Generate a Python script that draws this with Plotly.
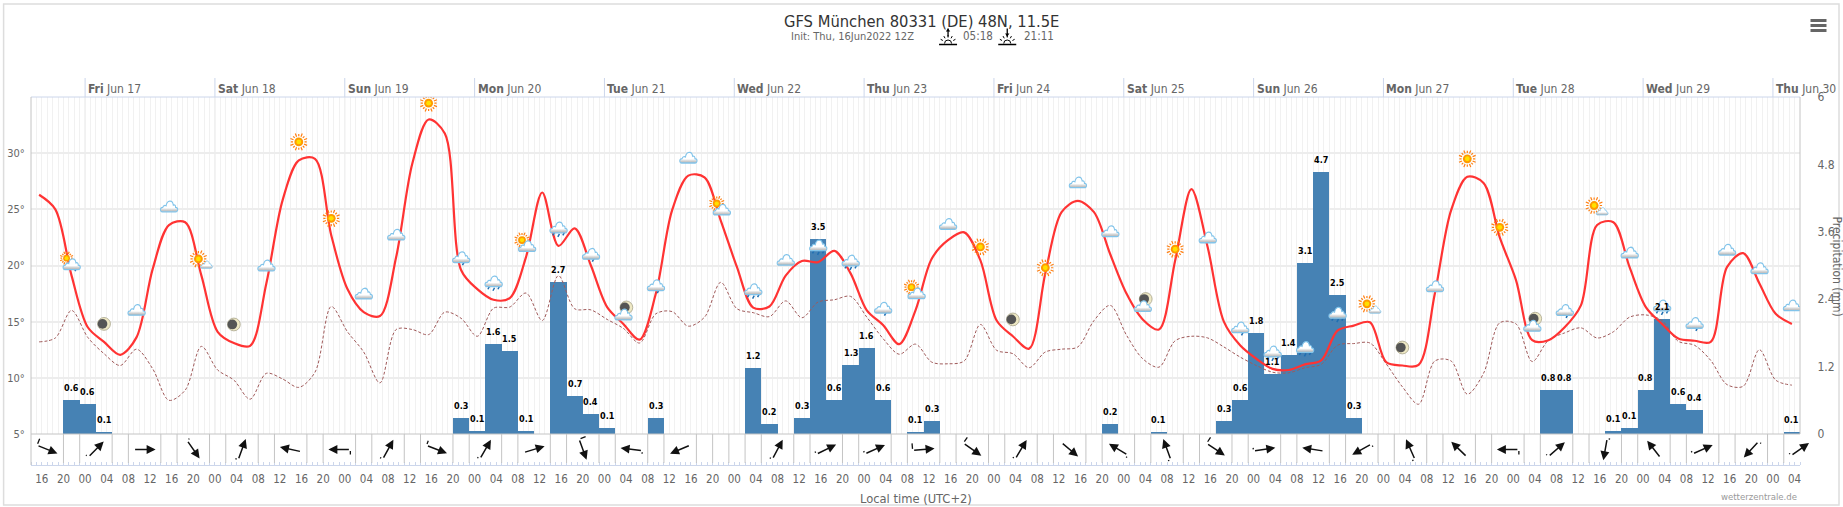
import base64
import math

import pandas as pd
import plotly.graph_objects as go

# forecast data, 3-hourly from init time
temp = [26.3, 25.0, 19.1, 14.5, 13.2, 12.05, 13.6, 19.7, 23.6, 23.85,
        19.1, 14.1, 13.1, 12.85, 18.4, 25.8, 29.35, 29.5, 22.7, 17.9,
        15.85, 15.5, 20.75, 29.1, 33.0, 31.75, 19.6, 17.9, 16.95, 17.1,
        20.75, 26.5, 21.75, 23.3, 20.0, 16.3, 14.8, 13.4, 17.5, 24.9,
        28.0, 27.85, 24.0, 19.85, 16.25, 16.35, 19.1, 20.4, 20.3, 21.3,
        19.3, 16.0, 14.7, 13.0, 16.0, 20.6, 22.25, 22.95, 20.45, 15.1,
        13.7, 12.6, 19.3, 24.75, 25.75, 24.75, 21.0, 17.5, 15.2, 14.3,
        20.45, 26.8, 21.65, 15.0, 12.9, 11.7, 10.8, 10.7, 11.2, 11.55,
        14.2, 14.65, 14.95, 11.4, 11.1, 11.15, 17.5, 24.9, 27.9, 27.35,
        22.5, 18.7, 13.35, 13.35, 14.5, 16.45, 23.6, 23.85, 19.85, 16.3,
        14.8, 13.5, 13.3, 13.2, 19.85, 21.1, 18.4, 15.7, 14.8]
dew = [13.2, 13.55, 16.0, 13.6, 12.15, 11.1, 12.55, 10.8, 8.0, 8.9,
       12.8, 10.7, 9.8, 8.1, 10.4, 9.9, 9.15, 10.5, 16.35, 14.1,
       12.3, 9.55, 14.3, 14.3, 13.85, 15.85, 15.3, 13.7, 16.2, 16.3,
       17.55, 15.1, 19.1, 16.15, 16.05, 15.2, 14.4, 13.1, 15.7, 15.9,
       14.6, 15.4, 18.5, 16.15, 15.8, 15.45, 16.85, 15.35, 16.75, 16.95,
       17.25, 15.4, 13.5, 12.1, 13.0, 11.4, 11.25, 11.5, 14.75, 12.45,
       12.15, 10.9, 12.3, 12.55, 12.75, 15.1, 16.45, 13.8, 11.7, 10.95,
       13.3, 13.7, 13.55, 12.75, 11.85, 11.1, 10.5, 10.45, 10.9, 11.2,
       12.9, 13.05, 13.1, 11.25, 9.2, 7.65, 11.5, 11.5, 8.55, 10.4,
       14.9, 14.8, 11.45, 13.35, 14.0, 14.45, 13.55, 14.1, 15.4, 15.6,
       15.1, 13.25, 12.9, 11.55, 9.4, 9.25, 12.5, 9.8, 9.35]

# precipitation per 3h step: step index -> (bar height, printed label)
precip = [0.0] * 109
precip_label = [""] * 109
rain_steps = [2, 3, 4, 26, 27, 28, 29, 30, 32, 33, 34, 35, 38, 44, 45, 47, 48, 49, 50, 51, 52,
              54, 55, 66, 69, 73, 74, 75, 76, 77, 78, 79, 80, 81, 93, 94, 97, 98, 99, 100, 101, 102, 108]
rain_mm = [0.61, 0.54, 0.04, 0.29, 0.06, 1.61, 1.48, 0.06, 2.71, 0.68, 0.36, 0.11, 0.29, 1.18, 0.18, 0.29, 3.47, 0.61, 1.23, 1.54, 0.61,
           0.04, 0.23, 0.18, 0.04, 0.23, 0.61, 1.79, 1.06, 1.41, 3.05, 4.66, 2.48, 0.29, 0.79, 0.79, 0.06, 0.11, 0.79, 2.05, 0.54, 0.43, 0.04]
rain_text = ["0.6", "0.6", "0.1", "0.3", "0.1", "1.6", "1.5", "0.1", "2.7", "0.7", "0.4", "0.1", "0.3", "1.2", "0.2", "0.3", "3.5", "0.6", "1.3", "1.6", "0.6",
             "0.1", "0.3", "0.2", "0.1", "0.3", "0.6", "1.8", "1.1", "1.4", "3.1", "4.7", "2.5", "0.3", "0.8", "0.8", "0.1", "0.1", "0.8", "2.1", "0.6", "0.4", "0.1"]
for s, mm, txt in zip(rain_steps, rain_mm, rain_text):
    precip[s] = mm
    precip_label[s] = txt

# weather symbol on every second step, starting at step 2
icon_kinds = ["sun_bigcloud_rain", "moon", "cloud", "cloud", "sun_cloud", "moon", "cloud", "sun", "sun", "cloud",
              "cloud", "sun", "cloud_rain", "rain", "sun_bigcloud", "rain", "cloud_rain", "moon_cloud", "cloud_rain", "cloud",
              "sun_bigcloud", "rain", "cloud", "rain", "rain", "cloud_rain", "sun_bigcloud", "cloud", "sun", "moon",
              "sun", "cloud", "cloud", "moon_cloud", "sun", "cloud", "cloud_rain", "rain", "rain", "rain",
              "sun_cloud", "moon", "cloud", "sun", "sun", "moon_cloud", "cloud_rain", "sun_cloud", "cloud", "rain",
              "cloud_rain", "cloud", "cloud", "cloud"]
icon_levels = [20.3, 14.8, 16.15, 25.35, 20.5, 14.75, 20.1, 31.0, 24.2, 17.6,
               22.85, 34.45, 20.75, 18.6, 22.0, 23.4, 21.05, 16.0, 18.25, 29.7,
               25.25, 17.9, 20.6, 21.8, 20.45, 16.25, 17.8, 23.8, 21.65, 15.2,
               19.8, 27.5, 23.15, 16.75, 21.45, 22.6, 14.5, 12.35, 12.75, 15.8,
               16.5, 12.7, 18.25, 29.5, 23.4, 15.0, 16.05, 25.25, 21.25, 16.45,
               14.9, 21.5, 19.85, 16.55]

# wind arrows every 9h, heading in degrees (None = no arrow), barb length
wind_heading = [112, 45, 90, 145, 20, 282, 270, 29, 111, 30, 73, 160, 277, 247, None, 28, 64, 66, 85,
                125, 31, 130, 301, 340, 124, 82, 279, 241, 336, 314, 270, 49, 190, 322, 66, 223, 55]
wind_barb = [7, 3, 0, 3, 3, 0, 5, 3, 5, 3, 0, 7, 3, 0, 0, 3, 3, 3, 7,
             7, 3, 0, 3, 3, 7, 3, 0, 3, 3, 0, 5, 3, 3, 0, 3, 3, 3]

day_names = ["Fri", "Sat", "Sun", "Mon", "Tue", "Wed", "Thu", "Fri", "Sat", "Sun", "Mon", "Tue", "Wed", "Thu"]
day_labels = ["Jun 17", "Jun 18", "Jun 19", "Jun 20", "Jun 21", "Jun 22", "Jun 23",
              "Jun 24", "Jun 25", "Jun 26", "Jun 27", "Jun 28", "Jun 29", "Jun 30"]
day_dates = pd.date_range("2022-06-17", periods=14, freq="D")

temp_ticks = [5, 10, 15, 20, 25, 30]
precip_ticks = [0, 1.2, 2.4, 3.6, 4.8, 6]

start = pd.Timestamp("2022-06-16 14:00")
times = pd.date_range(start + pd.Timedelta(minutes=90), periods=109, freq="3h")
end = start + pd.Timedelta(hours=327)

# plot frame in page pixels
WIDTH, HEIGHT = 1843, 507
L, R, T, B = 31.4, 1800.5, 97, 465
PRECIP_B = 434
PX_PER_HOUR = (R - L) / 327
PX_PER_DEG = (PRECIP_B - T) / 30
FONT = "DejaVu Sans Condensed, DejaVu Sans"
HOUR_MS = 3600000


def px(x):
    return (x - L) / (R - L)


def py(y):
    return (B - y) / (B - T)


def cloud_svg(cx, cy, w):
    s = w / 20
    return (f'<g transform="translate({cx - w / 2},{cy - 7 * s}) scale({s},{s * 1.2})">'
            '<path d="M3,11.5 C0.3,11.5 0.3,7.6 3.5,7.6 C4,5.8 6,5.6 7,6.2 C8,1 13.8,0.8 14.6,5.6 '
            'C16,5 17.2,6 17,7.6 C19.9,7.6 20,11.5 17,11.5 Z" fill="url(#g)" stroke="#82c4ea" stroke-width="1.1"/></g>')


def sun_svg(cx, cy, r):
    rays = ""
    for i in range(16):
        a = i * math.pi / 8
        r1, r2 = r * 1.3, r * 1.3 + (r * 0.75 if i % 2 else r * 0.5)
        rays += (f'<line x1="{cx + r1 * math.cos(a):.2f}" y1="{cy + r1 * math.sin(a):.2f}" '
                 f'x2="{cx + r2 * math.cos(a):.2f}" y2="{cy + r2 * math.sin(a):.2f}" stroke="#ff7f11" stroke-width="1.2"/>')
    return (rays + f'<circle cx="{cx}" cy="{cy}" r="{r}" fill="#ff9a00"/>'
            f'<circle cx="{cx}" cy="{cy}" r="{r * 0.55}" fill="#ffe000"/>')


def moon_svg(cx, cy, r):
    return (f'<circle cx="{cx}" cy="{cy}" r="{r}" fill="#eee8c4" stroke="#a8a48c" stroke-width="0.8"/>'
            f'<circle cx="{cx - r * 0.24}" cy="{cy}" r="{r * 0.76}" fill="#555555"/>')


def drops_svg(cx, cy, n):
    out = ""
    for i in range(n):
        x = cx + (i - (n - 1) / 2) * 5
        y = cy + (i % 2) * 1.5
        out += f'<line x1="{x + 1}" y1="{y}" x2="{x - 0.6}" y2="{y + 3}" stroke="#1f6fb2" stroke-width="1.5"/>'
    return out


def icon_uri(kind):
    c = 18
    parts = {
        "cloud": cloud_svg(c, c, 19),
        "cloud_rain": drops_svg(c + 2, c + 5, 1) + cloud_svg(c, c - 1, 19),
        "rain": drops_svg(c, c + 5, 3) + cloud_svg(c, c - 1, 19),
        "sun": sun_svg(c, c, 4.4),
        "sun_cloud": sun_svg(c - 3, c - 1, 4.4) + cloud_svg(c + 5, c + 4, 13),
        "sun_bigcloud": sun_svg(c - 4, c - 3, 3.9) + cloud_svg(c + 1, c + 2, 19),
        "sun_bigcloud_rain": sun_svg(c - 5, c - 4, 3.4) + drops_svg(c + 4, c + 6, 1) + cloud_svg(c, c + 1, 19),
        "moon": moon_svg(c, c, 6.4),
        "moon_cloud": moon_svg(c + 3, c - 3, 6.4) + cloud_svg(c, c + 3, 19),
    }[kind]
    svg = ('<svg xmlns="http://www.w3.org/2000/svg" width="36" height="36" viewBox="0 0 36 36">'
           '<defs><linearGradient id="g" x1="0" y1="0" x2="0" y2="1"><stop offset="0.62" stop-color="#ffffff"/>'
           '<stop offset="0.8" stop-color="#d4d4d4"/><stop offset="1" stop-color="#b0b0b0"/></linearGradient></defs>'
           + parts + "</svg>")
    return "data:image/svg+xml;base64," + base64.b64encode(svg.encode()).decode()


def sunrise_uri(up):
    # small header symbol, arrow over half a sun
    y1, y2 = (10, 2) if up else (2, 10)
    rays = ""
    for a in (-60, -30, 0, 30, 60):
        s, c = math.sin(math.radians(a)), math.cos(math.radians(a))
        rays += f'<line x1="{10 + 6 * s:.1f}" y1="{17 - 6 * c:.1f}" x2="{10 + 8.5 * s:.1f}" y2="{17 - 8.5 * c:.1f}" stroke="#000" stroke-width="1"/>'
    head = f'<path d="M10,{y2} l-2.2,{3 if up else -3} h4.4 z" fill="#000"/>'
    svg = ('<svg xmlns="http://www.w3.org/2000/svg" width="20" height="20" viewBox="0 0 20 20">'
           f'<line x1="10" y1="{y1}" x2="10" y2="{y2}" stroke="#000" stroke-width="1.3"/>{head}{rays}'
           '<path d="M6.5,17 a3.5,3.5 0 0 1 7,0" fill="none" stroke="#000" stroke-width="1"/>'
           '<line x1="1" y1="18" x2="19" y2="18" stroke="#000" stroke-width="1.4"/></svg>')
    return "data:image/svg+xml;base64," + base64.b64encode(svg.encode()).decode()


fig = go.Figure()

# bars sit on the primary axis so the temperature curves draw over them
fig.add_trace(go.Bar(x=times, y=precip, width=3 * HOUR_MS, marker=dict(color="#4682b4", line=dict(width=0)),
                     yaxis="y", hoverinfo="skip", showlegend=False))
fig.add_trace(go.Scatter(x=times, y=dew, mode="lines", yaxis="y2", hoverinfo="skip", showlegend=False,
                         line=dict(color="#a05a5a", width=1, dash="3px,2px", shape="spline", smoothing=0.9)))
fig.add_trace(go.Scatter(x=times, y=temp, mode="lines", yaxis="y2", hoverinfo="skip", showlegend=False,
                         line=dict(color="#ff3333", width=2.2, shape="spline", smoothing=0.9)))

annotations = []
shapes = []
images = []

# precipitation labels
for t, mm, txt in zip(times, precip, precip_label):
    if txt:
        annotations.append(dict(x=t, y=mm, xref="x", yref="y", xanchor="center", yanchor="middle", yshift=12,
                                showarrow=False, text=f"<b>{txt}</b>", font=dict(family=FONT, size=9, color="#000000")))

# weather symbols
for i, (kind, level) in enumerate(zip(icon_kinds, icon_levels)):
    images.append(dict(source=icon_uri(kind), xref="x", yref="y2", x=times[2 + 2 * i], y=level,
                       sizex=36 / PX_PER_HOUR * HOUR_MS, sizey=36 / PX_PER_DEG,
                       xanchor="center", yanchor="middle", sizing="stretch", layer="above"))

# wind strip dividers, the arrow cell hides every third one
for k in range(1, 109):
    hour = 3 * k
    cell = (hour - 3) / 9
    if cell == int(cell) and wind_heading[int(cell)] is not None:
        continue
    t = start + pd.Timedelta(hours=hour)
    shapes.append(dict(type="line", xref="x", yref="paper", x0=t, x1=t, y0=py(463), y1=py(PRECIP_B),
                       line=dict(color="#c4c4c4", width=1)))

# wind arrows
WIND_LEN = 22
for n, (heading, barb) in enumerate(zip(wind_heading, wind_barb)):
    if heading is None:
        continue
    t = start + pd.Timedelta(hours=3 + 9 * n)
    sx, sy = math.sin(math.radians(heading)), math.cos(math.radians(heading))
    annotations.append(dict(x=t, y=py(449.4), xref="x", yref="paper", text="", showarrow=True, arrowhead=2, arrowsize=1.2,
                            arrowwidth=1.5, arrowcolor="#111111", standoff=0,
                            xshift=WIND_LEN / 2 * sx, yshift=WIND_LEN / 2 * sy, ax=-WIND_LEN * sx, ay=WIND_LEN * sy))
    if barb:
        bx, by = math.sin(math.radians(heading - 90)), math.cos(math.radians(heading - 90))
        annotations.append(dict(x=t, y=py(449.4), xref="x", yref="paper", text="", showarrow=True, arrowhead=0,
                                arrowwidth=1.3, arrowcolor="#111111", standoff=0,
                                xshift=-WIND_LEN / 2 * sx + barb * bx, yshift=-WIND_LEN / 2 * sy + barb * by,
                                ax=-barb * bx, ay=barb * by))

# day boundaries and date labels on top
for d, name, label in zip(day_dates, day_names, day_labels):
    shapes.append(dict(type="line", xref="x", yref="paper", x0=d, x1=d, y0=py(PRECIP_B), y1=py(T), layer="below",
                       line=dict(color="#e2e2e2", width=1)))
    shapes.append(dict(type="line", xref="x", yref="paper", x0=d, x1=d, y0=py(T), y1=py(78),
                       line=dict(color="#ccd6eb", width=1)))
    annotations.append(dict(x=d, y=py(88.5), xref="x", yref="paper", xanchor="left", yanchor="middle", xshift=1, showarrow=False,
                            text=f"<b>{name}</b> {label}", font=dict(family=FONT, size=12, color="#666666")))

# frame lines
shapes += [
    dict(type="rect", xref="paper", yref="paper", x0=px(4), x1=px(1839.5), y0=py(505), y1=py(4), layer="below",
         line=dict(color="#dddddd", width=1.5)),
    dict(type="line", xref="paper", yref="paper", x0=0, x1=1, y0=py(T), y1=py(T), line=dict(color="#ccd6eb", width=1)),
    dict(type="line", xref="paper", yref="paper", x0=0, x1=1, y0=py(PRECIP_B), y1=py(PRECIP_B), line=dict(color="#c4c4c4", width=1)),
    dict(type="line", xref="paper", yref="paper", x0=0, x1=0, y0=0, y1=py(T), line=dict(color="#c4c4c4", width=1)),
    dict(type="line", xref="paper", yref="paper", x0=1, x1=1, y0=py(PRECIP_B), y1=py(T), line=dict(color="#c4c4c4", width=1)),
]
# menu symbol
for y in (20.5, 25.5, 30.5):
    shapes.append(dict(type="line", xref="paper", yref="paper", x0=px(1811), x1=px(1827), y0=py(y), y1=py(y),
                       line=dict(color="#666666", width=3)))

# header and footer text
annotations += [
    dict(x=px(921.8), y=py(21.5), xanchor="center", yanchor="middle", xref="paper", yref="paper", showarrow=False,
         text="GFS München 80331 (DE) 48N, 11.5E", font=dict(family=FONT, size=16.4, color="#333333")),
    dict(x=px(789), y=py(36), xanchor="left", yanchor="middle", xref="paper", yref="paper", showarrow=False,
         text="Init: Thu, 16Jun2022 12Z", font=dict(family=FONT, size=11, color="#666666")),
    dict(x=px(961.5), y=py(36), xanchor="left", yanchor="middle", xref="paper", yref="paper", showarrow=False,
         text="05:18", font=dict(family=FONT, size=11.5, color="#666666")),
    dict(x=px(1022), y=py(36), xanchor="left", yanchor="middle", xref="paper", yref="paper", showarrow=False,
         text="21:11", font=dict(family=FONT, size=11.5, color="#666666")),
    dict(x=px(916), y=py(498.5), xanchor="center", yanchor="middle", xref="paper", yref="paper", showarrow=False,
         text="Local time (UTC+2)", font=dict(family=FONT, size=12.8, color="#666666")),
    dict(x=px(1799.5), y=py(496), xanchor="right", yanchor="middle", xref="paper", yref="paper", showarrow=False,
         text="wetterzentrale.de", font=dict(family=FONT, size=9.5, color="#999999")),
    dict(x=px(1838), y=py(267), xanchor="center", yanchor="middle", xref="paper", yref="paper", showarrow=False, textangle=90,
         text="Precipitation (mm)", font=dict(family=FONT, size=12, color="#666666")),
]
for cx, up in ((948.5, True), (1007.7, False)):
    images.append(dict(source=sunrise_uri(up), xref="paper", yref="paper", x=px(cx), y=py(36.5),
                       sizex=20 / (R - L), sizey=20 / (B - T), xanchor="center", yanchor="middle", sizing="stretch", layer="above"))

domain_bottom = py(PRECIP_B)
fig.update_layout(
    width=WIDTH, height=HEIGHT,
    margin=dict(l=L, r=WIDTH - R, t=T, b=HEIGHT - B, pad=0, autoexpand=False),
    paper_bgcolor="#ffffff", plot_bgcolor="#ffffff",
    font=dict(family=FONT, size=12, color="#666666"),
    bargap=0, showlegend=False,
    annotations=annotations, shapes=shapes, images=images,
    xaxis=dict(
        type="date", range=[start, end], anchor="free", position=0,
        tick0="2022-06-16 16:00", dtick=4 * HOUR_MS, tickformat="%H",
        ticks="outside", ticklen=3, tickcolor="rgba(0,0,0,0)", tickfont=dict(size=11.5, color="#666666"),
        showgrid=False, zeroline=False, showline=True, linecolor="#ccd6eb", linewidth=1,
        minor=dict(dtick=HOUR_MS, tick0="2022-06-16 14:00", showgrid=True, gridcolor="#f1f1f1", gridwidth=1,
                   ticks="inside", ticklen=3, tickcolor="#ccd6eb"),
    ),
    yaxis=dict(
        domain=[domain_bottom, 1], range=[0, 6], side="right", anchor="x", tickmode="array", tickvals=precip_ticks,
        ticktext=["0", "1.2", "2.4", "3.6", "4.8", "6"], ticks="outside", ticklen=14, tickcolor="rgba(0,0,0,0)",
        tickfont=dict(size=12, color="#666666"), showgrid=False, zeroline=False, showline=False,
    ),
    yaxis2=dict(
        domain=[domain_bottom, 1], range=[5, 35], overlaying="y", side="left", anchor="x", tickmode="array", tickvals=temp_ticks,
        ticktext=[f"{v}°" for v in temp_ticks], ticks="outside", ticklen=3, tickcolor="rgba(0,0,0,0)",
        tickfont=dict(size=11, color="#666666"), showgrid=True, gridcolor="#ededed", gridwidth=1.5,
        zeroline=False, showline=False,
    ),
)

fig.write_html("out.html", config=dict(displayModeBar=False),
               post_script="document.body.style.margin='0';document.body.style.overflow='hidden';")
